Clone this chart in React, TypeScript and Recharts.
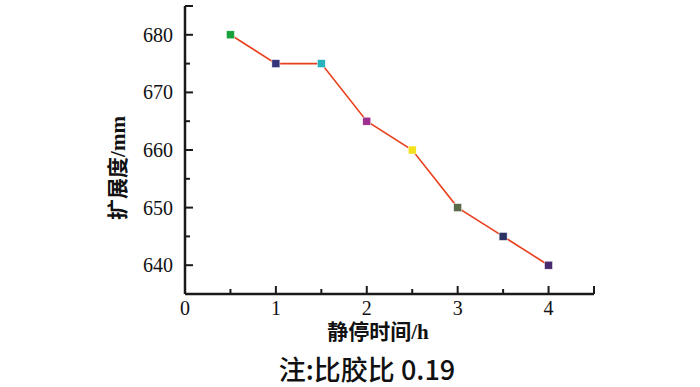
import { LineChart, Line, XAxis, YAxis } from "recharts"

const hours = [0.5, 1, 1.5, 2, 2.5, 3, 3.5, 4]
const spread = [680, 675, 675, 665, 660, 650, 645, 640]
const markerColors = ["#17a03c", "#35357a", "#27b2bc", "#9e2f8e", "#f4e31c", "#5b6a48", "#2c3262", "#4a2a6e"]
const xTicks = [0, 0.5, 1, 1.5, 2, 2.5, 3, 3.5, 4, 4.5]
const yTicks = [635, 640, 645, 650, 655, 660, 665, 670, 675, 680, 685]

const data = hours.map((h, i) => ({ h, v: spread[i] }))

const serif = "'Liberation Serif', 'Times New Roman', serif"
const axisColor = "#1a1a1a"

const XTick = (props: any) => {
  const { x, y, payload } = props
  const v = payload.value
  const major = Number.isInteger(v) || v === 4.5
  const label = Number.isInteger(v)
  return (
    <g>
      <path d={`M${x},${y}V${y - (major ? 8 : 5)}`} stroke={axisColor} strokeWidth={2} fill="none" />
      {label && (
        <text x={x} y={y + 21} textAnchor="middle" fontFamily={serif} fontSize={20} fill="#111">
          {v}
        </text>
      )}
    </g>
  )
}

const YTick = (props: any) => {
  const { x, y, payload } = props
  const v = payload.value
  const major = v % 10 === 0 || v === 685
  const label = v % 10 === 0
  return (
    <g>
      <path d={`M${x},${y}H${x + (major ? 8 : 5)}`} stroke={axisColor} strokeWidth={2} fill="none" />
      {label && (
        <text x={x - 12} y={y + 7} textAnchor="end" fontFamily={serif} fontSize={20} fill="#111">
          {v}
        </text>
      )}
    </g>
  )
}

const SquareDot = (props: any) => {
  const { cx, cy, index } = props
  return <rect key={index} x={cx - 4} y={cy - 4} width={8} height={8} fill={markerColors[index]} stroke="#fff" strokeWidth={0.5} />
}

export default function App() {
  return (
    <div style={{ position: "absolute", left: 0, top: 0, width: 700, height: 387, background: "#fff", overflow: "hidden" }}>
      <LineChart width={700} height={387} data={data} margin={{ top: 6, right: 106, left: 0, bottom: 0 }}>
        <XAxis
          dataKey="h"
          type="number"
          domain={[0, 4.5]}
          ticks={xTicks}
          interval={0}
          height={93}
          tickSize={0}
          tickMargin={0}
          tickLine={false}
          axisLine={{ stroke: axisColor, strokeWidth: 2.5 }}
          tick={<XTick />}
        />
        <YAxis
          type="number"
          domain={[635, 685]}
          ticks={yTicks}
          interval={0}
          width={185}
          tickSize={0}
          tickMargin={0}
          tickLine={false}
          axisLine={{ stroke: axisColor, strokeWidth: 2.5 }}
          tick={<YTick />}
        />
        <Line
          dataKey="v"
          stroke="#e8401c"
          strokeWidth={1.6}
          isAnimationActive={false}
          dot={<SquareDot />}
          activeDot={false}
        />
      </LineChart>
      <div
        style={{
          position: "absolute",
          left: 118,
          top: 168,
          transform: "translate(-50%, -50%) rotate(-90deg)",
          whiteSpace: "nowrap",
          lineHeight: "24px",
          fontFamily: serif + ", 'Noto Sans CJK SC'",
          fontSize: 21,
          fontWeight: "bold",
          color: "#111",
        }}
      >
        扩展度/mm
      </div>
      <div
        style={{
          position: "absolute",
          left: 378,
          top: 332,
          transform: "translate(-50%, -50%)",
          whiteSpace: "nowrap",
          lineHeight: "24px",
          fontFamily: serif + ", 'Noto Sans CJK SC'",
          fontSize: 21,
          fontWeight: "bold",
          color: "#111",
        }}
      >
        静停时间/h
      </div>
      <div
        style={{
          position: "absolute",
          left: 367,
          top: 369,
          transform: "translate(-50%, -50%)",
          whiteSpace: "nowrap",
          lineHeight: "30px",
          fontFamily: "'Noto Sans CJK SC', sans-serif",
          fontSize: 27,
          fontWeight: 500,
          color: "#111",
        }}
      >
        注:比胶比 0.19
      </div>
    </div>
  )
}
